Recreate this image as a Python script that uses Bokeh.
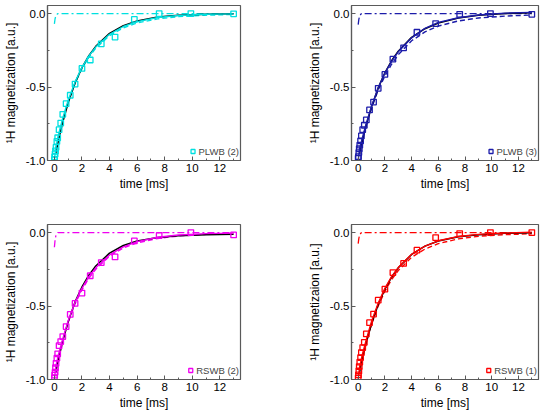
from bokeh.plotting import figure
from bokeh.layouts import row, column
from bokeh.models import Legend, LegendItem, SingleIntervalTicker, Range1d, NumeralTickFormatter
from bokeh.embed import file_html
from bokeh.resources import INLINE

# measurement times [ms]
TIME = [0.0, 0.02, 0.05, 0.08, 0.12, 0.18, 0.24, 0.34, 0.46, 0.61, 0.85,
        1.15, 1.5, 2.0, 2.6, 3.4, 4.4, 5.8, 7.6, 9.9, 13.0]
# sample times of the drawn fit curves [ms]
CURVE_T = [0.1, 0.3, 0.6, 1.0, 1.5, 2.0, 2.5, 3.0, 4.0, 5.0, 6.0, 7.5, 9.0, 11.0, 13.0]
FIT_T = [0.0] + CURVE_T
FAST_T = [0.0, 0.05, 0.12, 0.25, 13.0]

# PLWB (2)
PLWB2_M = [-0.995, -0.975, -0.955, -0.935, -0.91, -0.87, -0.845, -0.79, -0.745, -0.686, -0.613,
           -0.556, -0.48, -0.373, -0.316, -0.206, -0.16, -0.04, 0.0, 0.0, -0.002]
PLWB2_MONO = [-0.951, -0.861, -0.741, -0.607, -0.472, -0.368, -0.287, -0.223, -0.135, -0.082,
              -0.050, -0.024, -0.011, -0.004, -0.002]
PLWB2_BI = [-1.0, -0.913, -0.824, -0.714, -0.590, -0.465, -0.366, -0.289, -0.228, -0.141, -0.088,
            -0.055, -0.027, -0.013, -0.005, -0.002]
PLWB2_SLOW = [-0.92, -0.835, -0.725, -0.60, -0.475, -0.375, -0.297, -0.236, -0.15, -0.097,
              -0.064, -0.036, -0.021, -0.011, -0.006]
PLWB2_FAST = [-0.07, -0.035, -0.01, 0.0, 0.0]

# PLWB (3)
PLWB3_M = [-0.985, -0.973, -0.946, -0.92, -0.896, -0.867, -0.833, -0.79, -0.76, -0.724, -0.656,
           -0.602, -0.509, -0.414, -0.31, -0.233, -0.127, -0.068, -0.005, 0.0, -0.005]
PLWB3_MONO = [-0.956, -0.873, -0.761, -0.635, -0.506, -0.403, -0.321, -0.256, -0.162, -0.103,
              -0.065, -0.03, -0.012, 0.0, 0.005]
PLWB3_BI = [-1.0, -0.925, -0.85, -0.75, -0.63, -0.505, -0.405, -0.325, -0.26, -0.165, -0.10,
            -0.06, -0.028, -0.01, 0.003, 0.008]
PLWB3_SLOW = [-0.93, -0.86, -0.76, -0.645, -0.52, -0.425, -0.345, -0.28, -0.185, -0.125,
              -0.085, -0.05, -0.03, -0.017, -0.01]
PLWB3_FAST = [-0.075, -0.04, -0.012, 0.0, 0.0]

# RSWB (2)
RSWB2_M = [-0.99, -0.97, -0.95, -0.92, -0.89, -0.855, -0.825, -0.77, -0.742, -0.708, -0.64,
           -0.557, -0.482, -0.412, -0.294, -0.204, -0.166, -0.057, -0.02, 0.0, -0.016]
RSWB2_MONO = [-0.951, -0.861, -0.741, -0.607, -0.472, -0.370, -0.290, -0.227, -0.140, -0.088,
              -0.057, -0.033, -0.021, -0.014, -0.012]
RSWB2_BI = [-1.0, -0.915, -0.83, -0.725, -0.60, -0.475, -0.38, -0.30, -0.24, -0.152, -0.097,
            -0.062, -0.032, -0.016, -0.007, -0.004]
RSWB2_SLOW = [-0.92, -0.84, -0.735, -0.61, -0.485, -0.39, -0.31, -0.25, -0.16, -0.105,
              -0.07, -0.04, -0.023, -0.012, -0.007]
RSWB2_FAST = [-0.1, -0.05, -0.015, 0.0, 0.0]

# RSWB (1)
RSWB1_M = [-0.99, -0.969, -0.942, -0.912, -0.882, -0.851, -0.817, -0.783, -0.747, -0.69, -0.613,
           -0.555, -0.46, -0.385, -0.272, -0.21, -0.12, -0.034, -0.007, 0.0, 0.0]
RSWB1_MONO = [-0.953, -0.867, -0.751, -0.621, -0.490, -0.386, -0.304, -0.240, -0.149, -0.092,
              -0.057, -0.028, -0.014, -0.005, -0.002]
RSWB1_BI = [-1.0, -0.92, -0.835, -0.73, -0.605, -0.48, -0.38, -0.30, -0.238, -0.148, -0.092,
            -0.056, -0.027, -0.012, -0.003, 0.003]
RSWB1_SLOW = [-0.93, -0.85, -0.745, -0.625, -0.50, -0.40, -0.32, -0.258, -0.168, -0.112,
              -0.075, -0.043, -0.025, -0.014, -0.008]
RSWB1_FAST = [-0.075, -0.04, -0.012, 0.0, 0.0]

X_LABEL = "time [ms]"
Y_LABEL = "\u00b9H magnetization [a.u.]"
Y_LABEL_TYPO = "\u00b9H magnetizaion [a.u.]"

FONT = "Liberation Sans"
FRAME = "#5a5a5a"


def panel(name, color, m, mono, bi, slow, fast, ylabel, left_col, top_row):
    width = 300 if left_col else 248
    height = 213 if top_row else 200
    p = figure(width=width, height=height, output_backend="svg", toolbar_location=None,
               x_range=Range1d(-0.5, 13.5), y_range=Range1d(-1.0, 0.055),
               min_border_left=45 if left_col else 51,
               min_border_right=60 if left_col else 10,
               min_border_top=5 if top_row else 11,
               min_border_bottom=53 if top_row else 34)
    p.grid.visible = False
    p.outline_line_color = FRAME
    p.outline_line_width = 1.2
    p.background_fill_color = "white"
    p.border_fill_color = "white"

    p.xaxis.ticker = SingleIntervalTicker(interval=2, num_minor_ticks=2)
    p.yaxis.ticker = SingleIntervalTicker(interval=0.5, num_minor_ticks=2)
    p.yaxis.formatter = NumeralTickFormatter(format="0.0")
    for ax in (p.xaxis[0], p.yaxis[0]):
        ax.axis_line_color = FRAME
        ax.axis_line_width = 1.2
        ax.major_tick_line_color = FRAME
        ax.minor_tick_line_color = FRAME
        ax.major_tick_in = 4
        ax.major_tick_out = 0
        ax.minor_tick_in = 2
        ax.minor_tick_out = 0
        ax.major_label_text_font = FONT
        ax.major_label_text_font_size = "11.5px"
        ax.major_label_text_color = "black"
        ax.axis_label_text_font = FONT
        ax.axis_label_text_font_size = "12px"
        ax.axis_label_text_font_style = "normal"
        ax.axis_label_text_color = "black"
    p.xaxis.major_label_standoff = 3
    p.xaxis.axis_label_standoff = 2
    p.yaxis.major_label_standoff = 2
    p.yaxis.axis_label_standoff = 5
    p.xaxis.axis_label = X_LABEL
    p.yaxis.axis_label = ylabel

    p.line(CURVE_T, slow, line_color=color, line_width=1.4, line_dash="5 3")
    p.line(FAST_T, fast, line_color=color, line_width=1.3, line_dash="7 3 2 3")
    p.line(CURVE_T, mono, line_color="black", line_width=1.5)
    p.line(FIT_T, bi, line_color=color, line_width=1.4)
    sq = p.scatter(TIME, m, marker="square", size=5.5, fill_color=None,
                   line_color=color, line_width=1.3)

    legend = Legend(items=[LegendItem(label=name, renderers=[sq])], location="bottom_right",
                    border_line_color=None, background_fill_alpha=0,
                    label_text_font=FONT, label_text_font_size="9.5px",
                    glyph_width=10, glyph_height=16, label_height=16, label_standoff=1,
                    padding=1, margin=1, spacing=0)
    p.add_layout(legend)
    return p


p1 = panel("PLWB (2)", "#00E0E0", PLWB2_M, PLWB2_MONO, PLWB2_BI, PLWB2_SLOW, PLWB2_FAST,
           Y_LABEL, True, True)
p2 = panel("PLWB (3)", "#1C1CAA", PLWB3_M, PLWB3_MONO, PLWB3_BI, PLWB3_SLOW, PLWB3_FAST,
           Y_LABEL, False, True)
p3 = panel("RSWB (2)", "#F000F0", RSWB2_M, RSWB2_MONO, RSWB2_BI, RSWB2_SLOW, RSWB2_FAST,
           Y_LABEL, True, False)
p4 = panel("RSWB (1)", "#FF0000", RSWB1_M, RSWB1_MONO, RSWB1_BI, RSWB1_SLOW, RSWB1_FAST,
           Y_LABEL_TYPO, False, False)

layout = column(row(p1, p2), row(p3, p4))
open("out.html", "w").write(file_html(layout, INLINE))
